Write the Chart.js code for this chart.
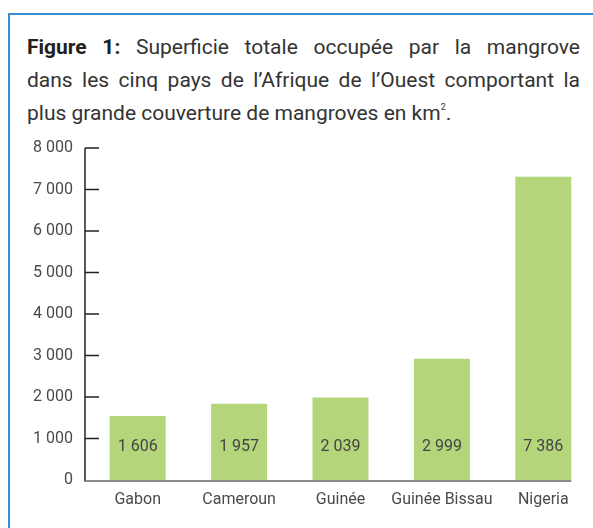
<!DOCTYPE html>
<html><head><meta charset="utf-8">
<script src="https://cdn.jsdelivr.net/npm/chart.js"></script>
<style>
html,body{margin:0;padding:0;width:593px;height:528px;overflow:hidden;background:#fff;}
#frame{position:absolute;left:8px;top:13px;width:620px;height:600px;border-left:2px solid #3a8fd4;border-top:2px solid #3a8fd4;}
#title{position:absolute;left:27px;top:31px;width:553px;font-family:Roboto,sans-serif;font-size:21px;line-height:33px;color:#333;}
#title div{white-space:nowrap;text-align:justify;text-align-last:justify;}
#title div.last{text-align-last:left;}
#title b{color:#231f20;}
#title sup{font-size:9px;vertical-align:top;position:relative;top:-6px;}
#chart{position:absolute;left:0;top:0;}
</style></head>
<body>
<div id="frame"></div>
<div id="title">
<div><b>Figure 1:</b> Superficie totale occupée par la mangrove</div>
<div>dans les cinq pays de l’Afrique de l’Ouest comportant la</div>
<div class="last">plus grande couverture de mangroves en km<sup>2</sup>.</div>
</div>
<canvas id="chart" width="600" height="528"></canvas>
<script>
const categories = ['Gabon', 'Cameroun', 'Guinée', 'Guinée Bissau', 'Nigeria'];
const barHeights = [1545, 1835, 1985, 2920, 7310];
const valueLabels = ['1 606', '1 957', '2 039', '2 999', '7 386'];
const yTickValues = [0, 1000, 2000, 3000, 4000, 5000, 6000, 7000, 8000];
const yTickLabels = ['0', '1 000', '2 000', '3 000', '4 000', '5 000', '6 000', '7 000', '8 000'];

const axesPlugin = {
  id: 'customAxes',
  afterDatasetsDraw(chart) {
    const ctx = chart.ctx;
    const y = chart.scales.y;
    const axisX = chart.chartArea.left - 2;
    const base = y.getPixelForValue(0);
    ctx.save();
    ctx.strokeStyle = '#222';
    ctx.lineWidth = 1.5;
    ctx.beginPath();
    ctx.moveTo(axisX, y.getPixelForValue(8000));
    ctx.lineTo(axisX, base + 1.5);
    ctx.stroke();
    yTickValues.forEach(v => {
      if (v === 0) return;
      const py = y.getPixelForValue(v);
      ctx.beginPath();
      ctx.moveTo(axisX, py);
      ctx.lineTo(axisX + 14, py);
      ctx.stroke();
    });
    const meta = chart.getDatasetMeta(0);
    const last = meta.data[meta.data.length - 1];
    const right = last.x + last.width / 2;
    ctx.strokeStyle = '#666';
    ctx.beginPath();
    ctx.moveTo(axisX, base + 1);
    ctx.lineTo(right, base + 1);
    ctx.stroke();
    ctx.fillStyle = '#444';
    ctx.font = '16px Roboto, sans-serif';
    ctx.textAlign = 'center';
    ctx.textBaseline = 'middle';
    meta.data.forEach((bar, i) => {
      ctx.fillText(valueLabels[i], bar.x, base - 33);
    });
    ctx.restore();
  }
};

new Chart(document.getElementById('chart'), {
  type: 'bar',
  data: {
    labels: categories,
    datasets: [{
      data: barHeights,
      backgroundColor: '#b5d57b',
      borderWidth: 0,
      barPercentage: 0.552,
      categoryPercentage: 1
    }]
  },
  options: {
    responsive: false,
    animation: false,
    layout: { padding: { top: 148, right: 6, left: 0, bottom: 0 } },
    plugins: { legend: { display: false }, tooltip: { enabled: false } },
    scales: {
      y: {
        min: 0, max: 8000,
        afterFit(s) { s.width = 87; },
        afterBuildTicks(s) { s.ticks = yTickValues.map(v => ({ value: v })); },
        grid: { display: false, drawTicks: false },
        border: { display: false },
        ticks: {
          padding: 14,
          color: '#4a4a4a',
          font: { family: 'Roboto', size: 16 },
          callback(v) { const i = yTickValues.indexOf(v); return i >= 0 ? yTickLabels[i] : ''; }
        }
      },
      x: {
        afterFit(s) { s.height = 48; },
        grid: { display: false, drawTicks: false },
        border: { display: false },
        ticks: {
          padding: 10,
          color: '#4a4a4a',
          maxRotation: 0,
          autoSkip: false,
          font: { family: 'Roboto', size: 16 }
        }
      }
    }
  },
  plugins: [axesPlugin]
});
</script>
</body></html>
